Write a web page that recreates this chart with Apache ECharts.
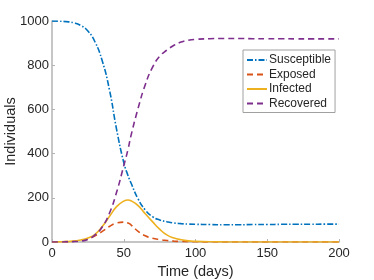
<!DOCTYPE html>
<html>
<head>
<meta charset="utf-8">
<script src="https://cdn.jsdelivr.net/npm/echarts@6/dist/echarts.min.js"></script>
<style>html,body{margin:0;padding:0;background:#fff}#c{width:374px;height:280px}</style>
</head>
<body>
<div id="c"></div>
<script>
var days        = [0,5,10,15,20,25,30,35,40,45,50,53,55,60,65,70,75,80,85,90,95,100,110,120,130,140,150,160,170,180,190,200];
var susceptible = [1000,999,997,992,980,955,905,820,690,510,360,300,268,195,145,115,100,92,86,83,81,80,79,78,78,79,79,80,80,80,81,81];
var exposed     = [0,0.5,1.5,3,7,14,28,48,70,86,90,86,78,48,28,17,11,7,4,2.5,1.5,1,0.3,0.1,0,0,0,0,0,0,0,0];
var infected    = [0,0.5,1.5,4,9,18,35,70,115,160,185,190,187,165,128,92,58,32,18,10,5,3,1,0.3,0.1,0,0,0,0,0,0,0];
var recovered   = [0,0.2,0.5,1.5,4,12,32,68,130,225,345,420,480,605,712,790,840,868,890,905,913,917,920,921,921,920,920,920,919,919,919,919];
var xTicks = [0,50,100,150,200];
var yTicks = [0,200,400,600,800,1000];

function pairs(arr){ return days.map(function(d,i){ return [d, arr[i]]; }); }

var chart = echarts.init(document.getElementById('c'), null, {renderer:'canvas'});
var font = 'Liberation Sans, Arial, Helvetica, sans-serif';
var axisGray = '#b3b3b3';
var txt = '#262626';
function mk(name, arr, color, type){
  return {name:name, type:'line', data:pairs(arr), symbol:'none', showSymbol:false, smooth:0.5,
    lineStyle:{color:color, width:1.6, type:type}, itemStyle:{color:color}, z: 3};
}
chart.setOption({
  animation:false,
  grid:{left:52, right:35, top:21, bottom:38, containLabel:false, outerBoundsMode:'none'},
  legend:{
    left: 243, top: 50, orient:'vertical',
    backgroundColor:'#fff', borderColor:'#a0a0a0', borderWidth:1,
    padding:[4,4,3,3], itemGap:2.5, itemWidth:20, itemHeight:12,
    itemStyle:{opacity:0},
    textStyle:{fontFamily:font, fontSize:12, color:txt, padding:[0,0,0,-3]},
    data:['Susceptible','Exposed','Infected','Recovered']
  },
  xAxis:{type:'value', min:0, max:200, interval:50,
    name:'Time (days)', nameLocation:'middle', nameGap:22, nameMoveOverlap:false,
    nameTextStyle:{fontFamily:font, fontSize:14.5, color:txt},
    axisLine:{show:true, onZero:false, lineStyle:{color:axisGray, width:1.5}},
    axisTick:{show:true, inside:true, length:3, lineStyle:{color:axisGray}},
    axisLabel:{fontFamily:font, fontSize:13, color:txt, margin:5, formatter:function(v){return String(v);}},
    splitLine:{show:false}},
  yAxis:{type:'value', min:0, max:1000, interval:200,
    name:'Individuals', nameLocation:'middle', nameGap:34, nameRotate:90, nameMoveOverlap:false,
    nameTextStyle:{fontFamily:font, fontSize:14.5, color:txt},
    axisLine:{show:true, onZero:false, lineStyle:{color:axisGray, width:1.5}},
    axisTick:{show:true, inside:true, length:3, lineStyle:{color:axisGray}},
    axisLabel:{fontFamily:font, fontSize:13, color:txt, margin:3, formatter:function(v){return String(v);}},
    splitLine:{show:false}},
  series:[
    mk('Susceptible', susceptible, '#0072BD', [6,2,1.5,2]),
    mk('Exposed', exposed, '#D95319', [6,4]),
    mk('Infected', infected, '#EDB120', 'solid'),
    mk('Recovered', recovered, '#7E2F8E', [6,4])
  ]
});
</script>
</body>
</html>
